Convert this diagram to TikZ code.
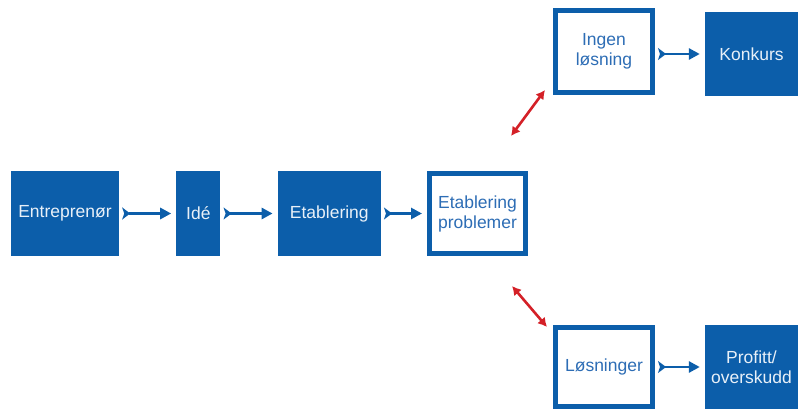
\documentclass[tikz,border=0pt]{standalone}
\usepackage{fontspec}
\setmainfont{Liberation Sans}
\usepackage{tikz}
\usetikzlibrary{arrows.meta, positioning}
\definecolor{BoxBlue}{HTML}{0C5EAA}
\definecolor{TextBlue}{HTML}{2D6DB5}
\definecolor{TextLight}{HTML}{E8F0F8}
\definecolor{LinkRed}{HTML}{D42027}

\begin{document}
\begin{tikzpicture}[x=1pt, y=-1pt, font=\fontsize{17.5}{20}\selectfont,
    fullbox/.style={fill=BoxBlue, draw=none, inner sep=0pt, minimum height=85pt, align=center, text=TextLight},
    openbox/.style={draw=BoxBlue, line width=5pt, fill=white, inner sep=0pt, align=center, text=TextBlue},
    flow/.style={draw=BoxBlue, line width=2.8pt, {Stealth[reversed, length=8pt, width=12pt, inset=2pt]}-{Triangle[length=11pt, width=11pt]}, shorten <=3pt, shorten >=5pt},
    link/.style={draw=LinkRed, line width=2.6pt, {Latex[length=9pt, width=10pt]}-{Latex[length=9pt, width=10pt]}}]
    \useasboundingbox (0,0) rectangle (798,409);

    % main row
    \node[fullbox, minimum width=108pt] (ent) at (65,213.5) {Entreprenør};
    \node[fullbox, right=57pt of ent, minimum width=44pt] (ide) {Idé};
    \node[fullbox, right=57pt of ide, minimum width=103pt] (etab) {Etablering};
    \node[openbox, right=46pt of etab, minimum width=96pt, minimum height=80pt] (prob) {Etablering\\problemer};

    % outcomes
    \node[openbox, minimum width=97pt, minimum height=82pt] (ingen) at (604,51.5) {Ingen\\løsning};
    \node[fullbox, minimum width=93pt, minimum height=84pt] (konk) at (751.5,54) {Konkurs};
    \node[openbox, minimum width=97pt, minimum height=79pt] (losn) at (604,367) {Løsninger};
    \node[fullbox, minimum width=93pt, minimum height=84pt] (prof) at (751.5,367) {Profitt/\\overskudd};

    \draw[flow] (ent) -- (ide);
    \draw[flow] (ide) -- (etab);
    \draw[flow] (etab) -- (prob);
    \draw[flow] (ingen.east |- konk) -- (konk);
    \draw[flow] (losn) -- (prof);

    \draw[link] ([shift={(-17,-35)}]prob.north east) -- ([shift={(-8,-5)}]ingen.south west);
    \draw[link] ([shift={(-16,30)}]prob.south east) -- ([shift={(-6,2)}]losn.north west);
\end{tikzpicture}
\end{document}
